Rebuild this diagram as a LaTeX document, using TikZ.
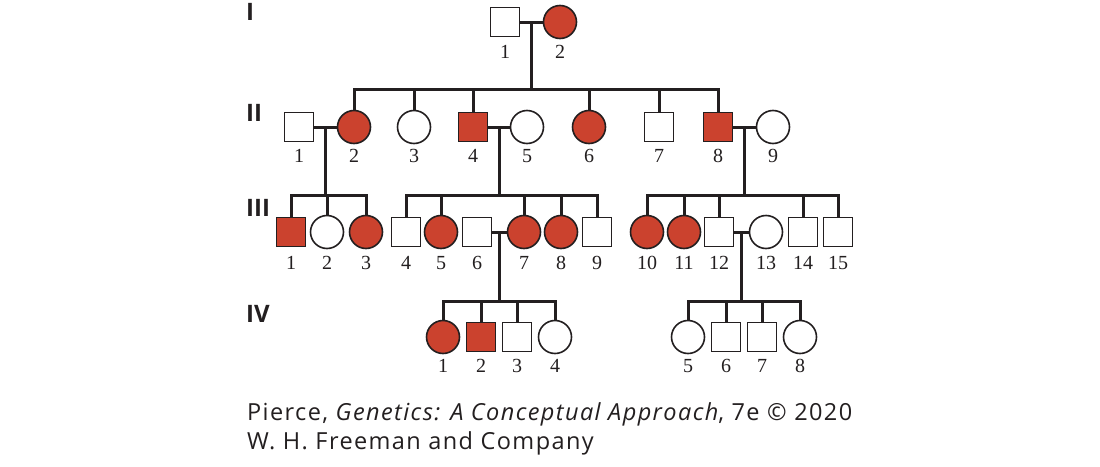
\documentclass[tikz,border=0pt]{standalone}
\usepackage{fontspec}
\newfontfamily\capfont[LetterSpace=6]{Open Sans}
\newfontfamily\genfont{Open Sans}
\newfontfamily\numfont{Liberation Serif}
\usetikzlibrary{calc}

\definecolor{pedred}{RGB}{203,66,46}
\definecolor{pedline}{RGB}{35,31,32}

\tikzset{
  male/.style={rectangle, draw=pedline, line width=1.6pt,
    minimum size=29pt, inner sep=0pt},
  female/.style={circle, draw=pedline, line width=1.6pt,
    minimum size=33pt, inner sep=0pt},
  num/.style={font=\numfont\fontsize{20}{20}\selectfont, inner sep=0pt, text=pedline},
  gen/.style={font=\genfont\bfseries\fontsize{24}{24}\selectfont,
    anchor=west, inner sep=0pt, text=pedline},
  link/.style={draw=pedline, line width=3pt},
  credit/.style={font=\capfont\fontsize{23.5}{23.5}\selectfont, anchor=base west,
    inner sep=0pt, text=pedline},
}

\begin{document}
\begin{tikzpicture}[x=1pt, y=-1pt]
  \fill[white] (0,0) rectangle (1100,466);
  \useasboundingbox (0,0) rectangle (1100,466);

  % generation labels
  \node[gen] (gI) at (246,12) {I};
  \node[gen] (gII) at (246,113) {II};
  \node[gen] (gIII) at (246,208) {III};
  \node[gen] (gIV) at (246,314) {IV};

  % individuals
  \foreach \n/\x/\s/\f in {1/505/male/white, 2/560/female/pedred} {
    \node[\s, fill=\f] (I\n) at (\x,22) {};
    \node[num] (nI\n) at (\x,52) {\n};
  }
  \foreach \n/\x/\s/\f in {1/299/male/white, 2/354/female/pedred,
      3/414/female/white, 4/473/male/pedred, 5/527/female/white,
      6/589/female/pedred, 7/659/male/white, 8/718/male/pedred,
      9/773/female/white} {
    \node[\s, fill=\f] (II\n) at (\x,127) {};
    \node[num] (nII\n) at (\x,156) {\n};
  }
  \foreach \n/\x/\s/\f in {1/291/male/pedred, 2/327/female/white,
      3/366/female/pedred, 4/406/male/white, 5/441/female/pedred,
      6/477/male/white, 7/524/female/pedred, 8/561/female/pedred,
      9/597/male/white, 10/647/female/pedred, 11/684/female/pedred,
      12/719/male/white, 13/766/female/white, 14/803/male/white,
      15/838/male/white} {
    \node[\s, fill=\f] (III\n) at (\x,232) {};
    \node[num] (nIII\n) at (\x,263) {\n};
  }
  \foreach \n/\x/\s/\f in {1/443/female/pedred, 2/481/male/pedred,
      3/517/male/white, 4/555/female/white, 5/688/female/white,
      6/726/male/white, 7/762/male/white, 8/800/female/white} {
    \node[\s, fill=\f] (IV\n) at (\x,337) {};
    \node[num] (nIV\n) at (\x,366) {\n};
  }

  % matings
  \draw[link] (I1) -- (I2);
  \draw[link] (II1) -- (II2);
  \draw[link] (II4) -- (II5);
  \draw[link] (II8) -- (II9);
  \draw[link] (III6) -- (III7);
  \draw[link] (III12) -- (III13);
  \coordinate (mI) at ($(I1.east)!0.5!(I2.west)$);
  \coordinate (mA) at ($(II1.east)!0.5!(II2.west)$);
  \coordinate (mB) at ($(II4.east)!0.5!(II5.west)$);
  \coordinate (mC) at ($(II8.east)!0.5!(II9.west)$);
  \coordinate (mD) at ($(III6.east)!0.5!(III7.west)$);
  \coordinate (mE) at ($(III12.east)!0.5!(III13.west)$);

  % descent lines
  \draw[link] (mI) -- (mI |- 0,89);
  \draw[link] (II2.north) |- (II8.north |- 0,89) -- (II8.north);
  \foreach \c in {II3, II4, II6, II7}
    \draw[link] (\c.north) -- (\c.north |- 0,89);

  \draw[link] (mA) -- (mA |- 0,195);
  \draw[link] (III1.north) |- (III3.north |- 0,195) -- (III3.north);
  \draw[link] (III2.north) -- (III2.north |- 0,195);

  \draw[link] (mB) -- (mB |- 0,195);
  \draw[link] (III4.north) |- (III9.north |- 0,195) -- (III9.north);
  \foreach \c in {III5, III7, III8}
    \draw[link] (\c.north) -- (\c.north |- 0,195);

  \draw[link] (mC) -- (mC |- 0,195);
  \draw[link] (III10.north) |- (III15.north |- 0,195) -- (III15.north);
  \foreach \c in {III11, III12, III14}
    \draw[link] (\c.north) -- (\c.north |- 0,195);

  \draw[link] (mD) -- (mD |- 0,301);
  \draw[link] (IV1.north) |- (IV4.north |- 0,301) -- (IV4.north);
  \foreach \c in {IV2, IV3}
    \draw[link] (\c.north) -- (\c.north |- 0,301);

  \draw[link] (mE) -- (mE |- 0,301);
  \draw[link] (IV5.north) |- (IV8.north |- 0,301) -- (IV8.north);
  \foreach \c in {IV6, IV7}
    \draw[link] (\c.north) -- (\c.north |- 0,301);

  % credit line
  \node[credit] (cap1) at (247,420)
    {Pierce, \textit{Genetics: A Conceptual Approach}, 7e \textcopyright{} 2020};
  \node[credit] (cap2) at (247,449) {W. H. Freeman and Company};
\end{tikzpicture}
\end{document}
